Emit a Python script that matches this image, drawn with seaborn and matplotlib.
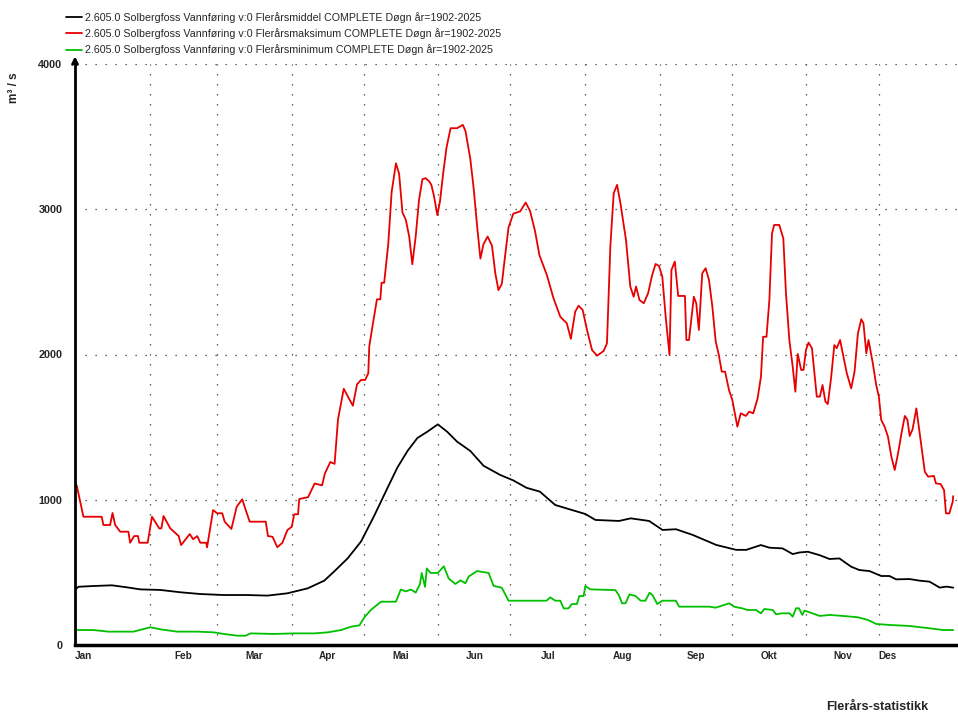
import pandas as pd
import matplotlib.pyplot as plt
import seaborn as sns

# ── data (day of year, m3/s) ─────────────────────────────────────────────────
max_day = [0.0, 0.7, 3.5, 11.1, 11.8, 14.6, 15.6, 16.7, 18.8, 22.2, 22.9, 24.6, 26.2, 26.7,
           30.2, 32.0, 35.0, 35.9, 36.8, 39.6, 43.1, 44.1, 47.7, 49.1, 50.8, 52.1, 54.5,
           54.9, 57.4, 59.1, 61.2, 62.2, 65.0, 67.2, 69.5, 70.5, 72.6, 79.3, 80.2, 82.1,
           84.1, 86.2, 88.3, 90.1, 91.1, 92.7, 93.2, 96.9, 99.6, 102.7, 103.8, 106.1,
           107.9, 109.3, 111.7, 115.5, 117.2, 118.9, 120.6, 121.9, 122.3, 123.7, 125.5,
           126.9, 127.4, 128.5, 130.2, 131.6, 133.4, 134.7, 136.1, 137.5, 138.9, 140.2,
           141.6, 143.0, 144.4, 145.7, 147.1, 148.1, 149.2, 150.6, 151.7, 153.0, 154.4,
           156.1, 158.8, 161.2, 162.3, 164.3, 165.7, 167.1, 168.5, 169.8, 171.5, 173.3,
           174.7, 176.0, 177.4, 178.8, 180.2, 182.2, 185.0, 187.3, 189.1, 191.2, 193.0,
           196.1, 198.9, 201.7, 204.4, 206.1, 207.9, 209.3, 211.0, 212.8, 214.9, 217.0,
           218.8, 219.7, 221.1, 222.5, 223.9, 225.3, 226.7, 229.0, 230.8, 232.2, 233.2,
           234.6, 236.4, 238.2, 239.9, 241.3, 242.7, 244.1, 245.5, 247.1, 247.9, 249.3,
           250.7, 253.5, 254.1, 255.2, 257.2, 258.2, 259.3, 260.7, 262.1, 263.5, 264.9,
           266.3, 267.6, 268.8, 270.2, 271.8, 273.2, 275.3, 276.7, 278.8, 280.2, 281.9,
           283.7, 285.1, 286.0, 287.4, 288.6, 289.7, 290.6, 292.7, 294.4, 295.5, 296.9,
           298.3, 299.4, 300.4, 301.8, 302.8, 303.8, 304.9, 306.3, 308.3, 309.6, 310.7,
           311.9, 312.9, 314.3, 315.6, 316.6, 318.0, 319.1, 320.8, 322.6, 324.0, 325.4,
           326.8, 327.7, 328.9, 329.8, 331.6, 333.0, 334.1, 335.1, 336.5, 337.9, 339.3,
           340.7, 342.1, 343.5, 344.9, 346.0, 346.9, 348.1, 349.7, 350.9, 351.8, 353.2,
           354.6, 357.0, 357.8, 359.8, 361.2, 362.0, 363.4, 364.8, 365.0]
max_val = [1060, 1100, 883, 883, 826, 826, 909, 826, 780, 780, 704, 750, 750, 704,
           704, 883, 803, 803, 888, 803, 750, 688, 764, 728, 750, 704, 704,
           673, 929, 907, 907, 849, 799, 952, 1003, 952, 849, 849, 750, 745,
           673, 704, 792, 814, 900, 900, 1005, 1018, 1112, 1099, 1178, 1260,
           1247, 1552, 1764, 1647, 1794, 1825, 1825, 1871, 2054, 2201, 2380,
           2380, 2494, 2494, 2761, 3118, 3316, 3245, 2978, 2927, 2812, 2621,
           2812, 3067, 3207, 3214, 3194, 3168, 3092, 2960, 3054, 3245, 3423,
           3558, 3558, 3581, 3538, 3347, 3143, 2889, 2660, 2761, 2812, 2749,
           2558, 2443, 2486, 2685, 2876, 2970, 2985, 3046, 2990, 2850, 2685,
           2548, 2386, 2260, 2215, 2108, 2295, 2336, 2307, 2169, 2031, 1992,
           2013, 2024, 2077, 2743, 3110, 3168, 3041, 2789, 2468, 2398, 2468,
           2375, 2353, 2422, 2548, 2623, 2610, 2536, 2260, 1996, 2582, 2640,
           2403, 2403, 2100, 2100, 2398, 2353, 2169, 2559, 2594, 2513, 2330,
           2089, 1996, 1882, 1882, 1756, 1687, 1503, 1595, 1577, 1606, 1595,
           1698, 1847, 2122, 2122, 2375, 2834, 2892, 2892, 2800, 2421, 2100,
           1916, 1744, 2004, 1894, 1894, 2031, 2082, 2043, 1710, 1710, 1790,
           1675, 1659, 1847, 2065, 2043, 2100, 2008, 1870, 1767, 1882, 2146,
           2243, 2215, 2008, 2100, 1939, 1790, 1710, 1549, 1503, 1434, 1297,
           1205, 1320, 1457, 1577, 1549, 1439, 1484, 1629, 1480, 1365, 1193,
           1159, 1164, 1113, 1108, 1067, 906, 906, 987, 1025]

mean_day = [0.0, 1.4, 7.6, 15.3, 21.6, 27.1, 35.5, 43.8, 52.1, 61.9, 71.6, 80.0, 88.3,
            96.7, 103.6, 107.9, 113.4, 118.9, 124.4, 129.9, 134.0, 138.2, 142.3, 146.4,
            150.8, 154.7, 158.8, 164.3, 169.8, 176.7, 182.2, 187.7, 193.2, 199.6, 206.6,
            212.1, 216.3, 226.1, 231.0, 238.6, 244.2, 249.8, 256.7, 266.5, 274.8, 279.0,
            283.2, 285.1, 288.6, 294.1, 298.3, 301.1, 304.6, 309.4, 313.6, 317.7, 322.6,
            326.0, 330.2, 335.1, 338.5, 341.3, 346.9, 351.0, 355.2, 359.4, 362.2, 365.0]
mean_val = [379, 401, 406, 411, 397, 383, 379, 363, 351, 344, 344, 340, 356,
            390, 443, 509, 598, 713, 891, 1082, 1222, 1336, 1425, 1468,
            1519, 1468, 1400, 1336, 1234, 1171, 1133, 1082, 1056, 964, 929,
            902, 861, 854, 872, 854, 792, 797, 758, 689, 655, 655,
            678, 688, 670, 665, 626, 637, 642, 619, 592, 596, 539,
            516, 509, 475, 475, 452, 454, 443, 436, 395, 402, 395]

min_day = [0.0, 7.6, 13.9, 24.3, 31.3, 35.5, 42.4, 50.8, 57.7, 61.9, 67.5, 70.9, 73.0,
           82.7, 91.1, 99.4, 105.0, 110.6, 114.7, 118.2, 120.3, 123.0, 127.2, 133.4,
           135.4, 137.5, 139.6, 141.6, 143.4, 144.1, 145.5, 146.2, 147.8, 150.8, 153.3,
           155.3, 158.1, 160.2, 162.3, 163.6, 167.1, 171.9, 174.0, 177.4, 180.2, 196.0,
           197.5, 199.6, 201.7, 203.1, 205.1, 206.5, 208.6, 209.6, 211.4, 212.1, 214.2,
           224.6, 226.0, 227.4, 228.8, 230.5, 233.0, 235.1, 237.1, 238.8, 240.0, 242.0,
           244.1, 249.7, 251.1, 263.6, 266.3, 271.9, 273.9, 277.4, 279.5, 283.0, 285.1,
           286.5, 290.0, 291.4, 293.5, 297.0, 298.3, 299.7, 300.9, 302.3, 303.2, 305.3,
           309.5, 313.6, 317.7, 325.4, 329.6, 333.0, 338.5, 346.9, 355.2, 360.8, 365.0]
min_val = [103, 103, 92, 92, 122, 108, 92, 92, 87, 76, 64, 64, 80,
           76, 80, 80, 87, 103, 126, 135, 191, 242, 298, 298,
           382, 369, 382, 361, 420, 496, 400, 527, 496, 496, 542,
           458, 420, 445, 425, 471, 509, 496, 407, 394, 305, 305,
           328, 305, 305, 252, 252, 282, 282, 337, 337, 406, 383,
           378, 344, 287, 287, 349, 337, 305, 305, 360, 344, 282,
           305, 305, 264, 264, 257, 287, 264, 252, 241, 241, 218,
           248, 241, 211, 218, 218, 195, 253, 253, 207, 237, 225,
           200, 207, 202, 191, 172, 145, 138, 131, 115, 103, 103]

month_start = [0, 31, 59, 90, 120, 151, 181, 212, 243, 273, 304, 334, 365]
month_names = ["Jan", "Feb", "Mar", "Apr", "Mai", "Jun", "Jul", "Aug", "Sep", "Okt", "Nov", "Des"]
y_ticks = [0, 1000, 2000, 3000, 4000]

label_base = "2.605.0 Solbergfoss Vannføring v:0 Flerårs{} COMPLETE Døgn år=1902-2025"
series = [
    (mean_day, mean_val, "#000000", label_base.format("middel")),
    (max_day, max_val, "#e80000", label_base.format("maksimum")),
    (min_day, min_val, "#00c000", label_base.format("minimum")),
]

sns.set_style("white")
plt.rcParams["font.family"] = ["Liberation Sans", "DejaVu Sans"]

fig = plt.figure(figsize=(9.58, 7.13), dpi=100)
ax = fig.add_axes([75 / 958, 68 / 713, 883 / 958, 581 / 713])

for days, vals, color, label in series:
    df = pd.DataFrame({"day": days, "value": vals})
    sns.lineplot(data=df, x="day", y="value", color=color, linewidth=1.3,
                 estimator=None, sort=False, label=label, ax=ax)

ax.set_xlim(0, 367)
ax.set_ylim(0, 4000)

# month boundaries as ticks + grid, month names as minor tick labels
ax.xaxis.remove_overlapping_locs = False
ax.set_xticks(month_start[1:-1])
ax.set_xticklabels([])
label_pos = [0] + [(a + b) / 2 for a, b in zip(month_start[1:-2], month_start[2:-1])] + [month_start[-2]]
ax.set_xticks(label_pos, minor=True)
ax.set_xticklabels(month_names, minor=True, fontsize=7.2, fontweight="bold")
minor_labels = ax.xaxis.get_minorticklabels()
minor_labels[0].set_ha("left")
minor_labels[-1].set_ha("left")
ax.tick_params(axis="x", which="major", direction="out", length=4, width=1.2, color="black")
ax.tick_params(axis="x", which="minor", length=0, pad=4)

ax.set_yticks(y_ticks)
ax.set_yticklabels([str(v) for v in y_ticks], fontsize=7.8, fontweight="bold")
ax.tick_params(axis="y", direction="out", length=6, width=1.8, color="black", pad=3)

ax.grid(True, which="major", linestyle=(0, (1, 7)), color="#333333", linewidth=0.9)
ax.set_xlabel("")
ax.set_ylabel("")

for side in ["top", "right"]:
    ax.spines[side].set_visible(False)
ax.spines["left"].set_linewidth(2)
ax.spines["bottom"].set_linewidth(2.5)
ax.spines["left"].set_color("black")
ax.spines["bottom"].set_color("black")

# arrow on top of the value axis
ax.annotate("", xy=(0, 1.018), xytext=(0, 0.995), xycoords="axes fraction",
            arrowprops=dict(arrowstyle="->", lw=2, color="black", mutation_scale=9))

handles, labels = ax.get_legend_handles_labels()
ax.get_legend().remove()
fig.legend(handles, labels, loc="upper left", bbox_to_anchor=(66 / 958, 1 - 12 / 713),
           frameon=False, fontsize=7.7, handlelength=1.5, handletextpad=0.3,
           labelspacing=0.5, borderpad=0, borderaxespad=0)

fig.text(14 / 958, 1 - 88 / 713, "m³ / s", rotation=90, fontsize=8.5, fontweight="bold",
         ha="center", va="center")
fig.text(826 / 958, 1 - 707 / 713, "Flerårs-statistikk", fontsize=9.2, fontweight="bold",
         ha="left", va="center")

plt.savefig("out.png", dpi=100)
plt.close()
